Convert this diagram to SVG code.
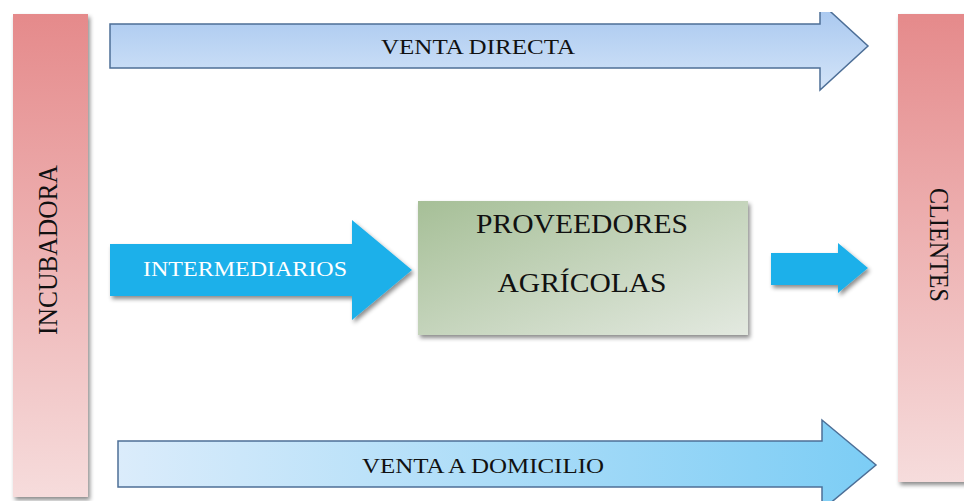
<svg xmlns="http://www.w3.org/2000/svg" width="964" height="501" viewBox="0 0 964 501">
<defs>
<linearGradient id="gBar" x1="0" y1="0" x2="0" y2="1"><stop offset="0" stop-color="#e58a8b"/><stop offset="1" stop-color="#f6dcdc"/></linearGradient>
<linearGradient id="gTop" x1="0" y1="0" x2="0" y2="1"><stop offset="0" stop-color="#a6c6ef"/><stop offset="1" stop-color="#d3e4f8"/></linearGradient>
<linearGradient id="gBot" x1="0" y1="0" x2="1" y2="0"><stop offset="0" stop-color="#dbecfb"/><stop offset="1" stop-color="#7ccdf5"/></linearGradient>
<linearGradient id="gBox" x1="0" y1="0" x2="1" y2="1"><stop offset="0" stop-color="#a6bf97"/><stop offset="1" stop-color="#e3e9e0"/></linearGradient>
<filter id="sh" x="-10%" y="-10%" width="130%" height="130%"><feDropShadow dx="2" dy="3" stdDeviation="2" flood-color="#000" flood-opacity="0.45"/></filter>
<clipPath id="cTop"><rect x="0" y="12" width="964" height="489"/></clipPath>
</defs>
<style>
.t{font-family:"Liberation Serif","Times New Roman",serif;fill:#111;}
.bar{fill:url(#gBar);filter:url(#sh);}
.big{stroke:#4d6f97;stroke-width:1.5;}
.cy{fill:#1fb0ea;}
</style>
<g id="incubadora">
<rect class="bar" x="13" y="14" width="75" height="483"/>
<text class="t" font-size="27" text-anchor="middle" transform="translate(57 250) rotate(-90)" textLength="170" lengthAdjust="spacingAndGlyphs">INCUBADORA</text>
</g>
<g id="clientes">
<rect class="bar" x="898" y="14" width="70" height="468"/>
<text class="t" font-size="27" text-anchor="middle" transform="translate(930 245) rotate(90)" textLength="114" lengthAdjust="spacingAndGlyphs">CLIENTES</text>
</g>
<g id="proveedores">
<rect x="418" y="201" width="330" height="134" fill="url(#gBox)" filter="url(#sh)"/>
<text class="t" font-size="28" text-anchor="middle" x="582" y="233" textLength="212" lengthAdjust="spacingAndGlyphs">PROVEEDORES</text>
<text class="t" font-size="28" text-anchor="middle" x="582" y="292" textLength="169" lengthAdjust="spacingAndGlyphs">AGRÍCOLAS</text>
</g>
<g id="connectors">
<g id="venta-directa">
<polygon class="big" clip-path="url(#cTop)" fill="url(#gTop)" points="110,24 820,24 820,2 868,46 820,90 820,68 110,68"/>
<text class="t" font-size="22" text-anchor="middle" x="478" y="54" textLength="194" lengthAdjust="spacingAndGlyphs">VENTA DIRECTA</text>
</g>
<g id="intermediarios">
<polygon class="cy" filter="url(#sh)" points="110,244 352,244 352,220 412,270 352,320 352,296 110,296"/>
<text font-family="Liberation Serif, serif" font-size="22" fill="#fff" text-anchor="middle" x="245" y="276" textLength="204" lengthAdjust="spacingAndGlyphs">INTERMEDIARIOS</text>
</g>
<g id="a-clientes">
<polygon class="cy" filter="url(#sh)" points="771,253 838,253 838,243 868,268 838,293 838,285 771,285"/>
</g>
<g id="venta-domicilio">
<polygon class="big" fill="url(#gBot)" points="118,441 822,441 822,420 876,465 822,510 822,487 118,487"/>
<text class="t" font-size="22" text-anchor="middle" x="483" y="473" textLength="242" lengthAdjust="spacingAndGlyphs">VENTA A DOMICILIO</text>
</g>
</g>
</svg>
